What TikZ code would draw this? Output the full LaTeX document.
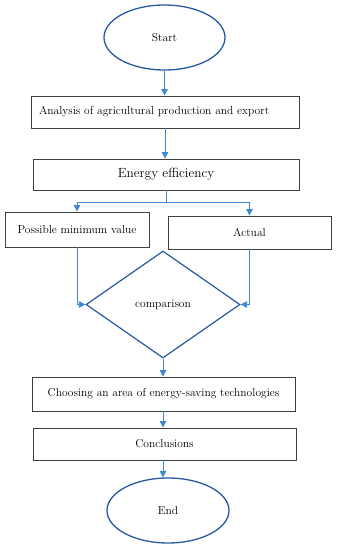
\documentclass[tikz,border=0pt]{standalone}
\usepackage{tikz}
\usetikzlibrary{shapes.geometric,arrows.meta}

\definecolor{darkblue}{RGB}{38,90,160}
\definecolor{arrowblue}{RGB}{62,136,214}
\definecolor{boxgray}{RGB}{64,64,64}

\tikzset{
  stepbox/.style={draw=boxgray, line width=0.9pt, minimum height=32pt, inner sep=0pt},
  termnode/.style={ellipse, draw=darkblue, line width=1.3pt, minimum width=121pt, minimum height=65pt, inner sep=0pt},
  decnode/.style={diamond, draw=darkblue, line width=1.2pt, minimum width=154pt, minimum height=107pt, inner sep=0pt},
  flow/.style={draw=arrowblue, line width=1pt, -{Triangle[width=6.5pt,length=6.5pt]}},
  flowline/.style={draw=arrowblue, line width=1pt}
}

\begin{document}
\begin{tikzpicture}[x=1pt, y=-1pt, font=\fontsize{11.5}{13}\selectfont]
  \useasboundingbox (0,0) rectangle (338,550);

  \coordinate (S) at (164.5, 37.5);
  \coordinate (A) at (165.0, 112.0);
  \coordinate (E) at (166.0, 174.5);
  \coordinate (P) at (77.0, 229.5);
  \coordinate (Q) at (249.5, 232.5);
  \coordinate (C) at (163.0, 304.5);
  \coordinate (H) at (163.5, 394.0);
  \coordinate (K) at (164.5, 444.0);
  \coordinate (N) at (168.0, 510.5);
  \coordinate (split) at (166.0, 202.0);

  \node[termnode] (start) at (S) {Start};
  \node[stepbox, minimum width=268pt, text width=252pt, align=left] (analysis) at (A) {Analysis of agricultural production and export};
  \node[stepbox, minimum width=266pt, minimum height=31pt, font=\fontsize{13.3}{15}\selectfont] (energy) at (E) {Energy efficiency};
  \node[stepbox, minimum width=144pt, minimum height=35pt] (minval) at (P) {Possible minimum value};
  \node[stepbox, minimum width=163pt, minimum height=33pt] (actual) at (Q) {Actual};
  \node[decnode] (comparison) at (C) {comparison};
  \node[stepbox, minimum width=263pt, minimum height=34pt] (choosing) at (H) {Choosing an area of energy-saving technologies};
  \node[stepbox, minimum width=263pt] (conclusions) at (K) {Conclusions};
  \node[termnode, minimum width=122pt] (finish) at (N) {End};

  \draw[flow] (start.south) -- (start.south |- analysis.north);
  \draw[flow] (analysis.south) -- (analysis.south |- energy.north);
  \draw[flowline] (energy.south) -- (split);
  \draw[flow] (split) -| (minval.north);
  \draw[flow] (split) -| (actual.north);
  \draw[flow] (minval.south) |- (comparison.west);
  \draw[flow] (actual.south) |- (comparison.east);
  \draw[flow] (comparison.south) -- (comparison.south |- choosing.north);
  \draw[flow] (comparison.south |- choosing.south) -- (comparison.south |- conclusions.north);
  \draw[flow] (comparison.south |- conclusions.south) -- (comparison.south |- finish.north);
\end{tikzpicture}
\end{document}
